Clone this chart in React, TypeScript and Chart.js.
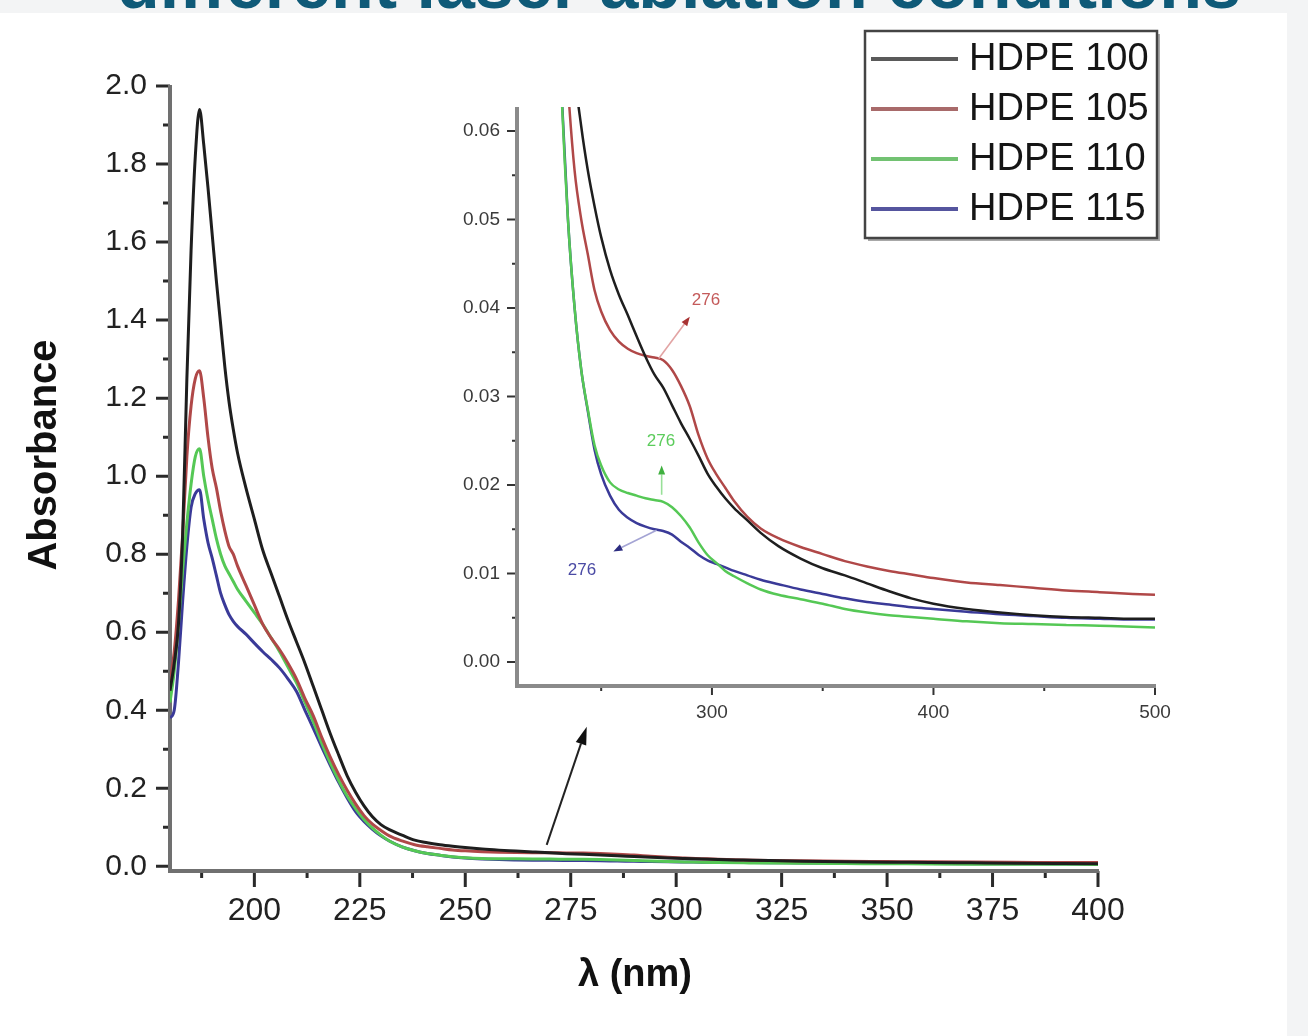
import React, { useEffect, useRef } from 'react';
import { Chart, registerables } from 'chart.js';

Chart.register(...registerables);

const FONT = '"Liberation Sans", Arial, Helvetica, sans-serif';

// ---- data ----
const wavelengths = [
  180, 181, 182, 183, 184, 185, 186, 187, 188, 189, 190, 191, 192, 193, 194, 195, 196, 198, 200, 202,
  204, 206, 208, 210, 212, 214, 216, 218, 220, 222, 224, 226, 228, 230, 232, 235, 238, 241, 244, 247,
  250, 254, 258, 262, 266, 270, 274, 278, 282, 286, 290, 294, 298, 302, 306, 310, 316, 322, 330, 340,
  350, 360, 370, 380, 390, 400, 415, 430, 445, 460, 475, 490, 500,
];

const hdpe100 = [
  0.45, 0.52, 0.62, 0.85, 1.25, 1.58, 1.82, 1.94, 1.85, 1.74, 1.62, 1.5, 1.39, 1.28, 1.19, 1.12, 1.06, 0.97, 0.89, 0.81,
  0.75, 0.69, 0.63, 0.575, 0.52, 0.46, 0.4, 0.34, 0.285, 0.232, 0.19, 0.155, 0.127, 0.107, 0.094, 0.08, 0.067, 0.0605, 0.0555, 0.0515,
  0.048, 0.0443, 0.0415, 0.0392, 0.0368, 0.0345, 0.0325, 0.031, 0.029, 0.027, 0.0252, 0.0233, 0.0213, 0.0198, 0.0185, 0.0174, 0.016, 0.0146, 0.0131, 0.0117,
  0.0106, 0.0098, 0.0089, 0.008, 0.0072, 0.0066, 0.006, 0.0056, 0.0053, 0.0051, 0.005, 0.0049, 0.0049,
];

const hdpe105 = [
  0.47, 0.55, 0.68, 0.85, 1.05, 1.18, 1.25, 1.27, 1.2, 1.1, 1.02, 0.97, 0.91, 0.86, 0.82, 0.8, 0.77, 0.72, 0.67, 0.62,
  0.585, 0.555, 0.52, 0.48, 0.43, 0.385, 0.33, 0.28, 0.235, 0.195, 0.16, 0.13, 0.108, 0.092, 0.078, 0.065, 0.0555, 0.05, 0.046, 0.042,
  0.0396, 0.0375, 0.0362, 0.0354, 0.0349, 0.0346, 0.0344, 0.0341, 0.033, 0.0312, 0.0289, 0.0256, 0.023, 0.0212, 0.0197, 0.0182, 0.0164, 0.0151, 0.014, 0.013,
  0.0122, 0.0114, 0.0108, 0.0103, 0.0099, 0.0095, 0.009, 0.0087, 0.0084, 0.0081, 0.0079, 0.0077, 0.0076,
];

const hdpe110 = [
  0.42, 0.5, 0.62, 0.76, 0.88, 0.98, 1.05, 1.07, 1.0, 0.94, 0.89, 0.84, 0.8, 0.77, 0.75, 0.73, 0.71, 0.68, 0.65, 0.62,
  0.585, 0.55, 0.51, 0.47, 0.42, 0.37, 0.315, 0.265, 0.22, 0.18, 0.148, 0.12, 0.098, 0.08, 0.065, 0.05, 0.04, 0.033, 0.0285, 0.0245,
  0.0222, 0.0203, 0.0195, 0.0191, 0.0188, 0.0185, 0.0183, 0.0181, 0.0175, 0.0165, 0.0152, 0.0135, 0.0121, 0.0112, 0.0103, 0.0097, 0.0089, 0.0082, 0.0076, 0.0071,
  0.0066, 0.006, 0.0056, 0.0053, 0.0051, 0.0049, 0.0046, 0.0044, 0.0043, 0.0042, 0.0041, 0.004, 0.0039,
];

const hdpe115 = [
  0.38, 0.4, 0.52, 0.68, 0.82, 0.92, 0.955, 0.965, 0.89, 0.83, 0.79, 0.745, 0.7, 0.67, 0.645, 0.628, 0.615, 0.595, 0.572, 0.55,
  0.53, 0.508, 0.48, 0.448, 0.4, 0.353, 0.305, 0.259, 0.215, 0.175, 0.14, 0.115, 0.095, 0.078, 0.065, 0.05, 0.04, 0.033, 0.0283, 0.024,
  0.0212, 0.0188, 0.0172, 0.0163, 0.0157, 0.0153, 0.015, 0.0148, 0.0144, 0.0136, 0.0129, 0.0121, 0.0115, 0.0111, 0.0107, 0.0103, 0.0098, 0.0093, 0.0088, 0.0082,
  0.0077, 0.0072, 0.0068, 0.0065, 0.0062, 0.006, 0.0057, 0.0054, 0.0052, 0.005, 0.0049, 0.0048, 0.0048,
];

const seriesLabels = ['HDPE 100', 'HDPE 105', 'HDPE 110', 'HDPE 115'];
const seriesValues = [hdpe100, hdpe105, hdpe110, hdpe115];
const seriesColors = ['#1e1e1e', '#b04848', '#55c855', '#3a3a98'];
const legendColors = ['#5a5a5a', '#a86a6a', '#72c272', '#55559e'];

// ---- axes ----
const titleText = 'different laser ablation conditions';
const xAxisTitle = 'λ (nm)';
const yAxisTitle = 'Absorbance';

const mainXRange = [180, 400];
const mainYRange = [-0.012, 2.0];
const mainXTicks = [200, 225, 250, 275, 300, 325, 350, 375, 400];
const mainXMinor = [187.5, 212.5, 237.5, 262.5, 287.5, 312.5, 337.5, 362.5, 387.5];
const mainYTicks = [0, 0.2, 0.4, 0.6, 0.8, 1.0, 1.2, 1.4, 1.6, 1.8, 2.0];
const mainYMinor = [0.1, 0.3, 0.5, 0.7, 0.9, 1.1, 1.3, 1.5, 1.7, 1.9];

const insetXRange = [212, 500];
const insetYRange = [-0.0027, 0.0627];
const insetXTicks = [300, 400, 500];
const insetXMinor = [250, 350, 450];
const insetYTicks = [0, 0.01, 0.02, 0.03, 0.04, 0.05, 0.06];
const insetYMinor = [0.005, 0.015, 0.025, 0.035, 0.045, 0.055];

// ---- annotations (data coordinates) ----
const mainArrowTail = [269.3, 0.055];
const mainArrowHead = [278.8, 0.358];

const annotationLabel = '276';
const annotationSeries = [1, 2, 3];
const annotationTail = [[276, 0.0343], [277.3, 0.0189], [275, 0.0149]];
const annotationHead = [[290, 0.039], [277.3, 0.0222], [255.5, 0.0125]];
const annotationTextAt = [[297.3, 0.0409], [277, 0.0249], [241.3, 0.0104]];
const annotationLineColors = ['#e2a4a4', '#98e098', '#a4a4d4'];
const annotationHeadColors = ['#a83232', '#3fb03f', '#2c2c80'];
const annotationTextColors = ['#c45a5a', '#5ccc5c', '#4a4aa4'];

function buildDatasets(width: number) {
  return seriesLabels.map((label, i) => ({
    label,
    data: wavelengths.map((w, j) => ({ x: w, y: seriesValues[i][j] })),
    borderColor: seriesColors[i],
    backgroundColor: seriesColors[i],
    borderWidth: width,
    pointRadius: 0,
    fill: false,
    cubicInterpolationMode: 'monotone' as const,
  }));
}

function drawArrow(ctx: CanvasRenderingContext2D, x1: number, y1: number, x2: number, y2: number,
  lineColor: string, headColor: string, lw: number, hl: number, hw: number) {
  const ang = Math.atan2(y2 - y1, x2 - x1);
  const bx = x2 - hl * Math.cos(ang);
  const by = y2 - hl * Math.sin(ang);
  ctx.strokeStyle = lineColor;
  ctx.lineWidth = lw;
  ctx.beginPath();
  ctx.moveTo(x1, y1);
  ctx.lineTo(bx, by);
  ctx.stroke();
  ctx.fillStyle = headColor;
  ctx.beginPath();
  ctx.moveTo(x2, y2);
  ctx.lineTo(bx + (hw / 2) * Math.sin(ang), by - (hw / 2) * Math.cos(ang));
  ctx.lineTo(bx - (hw / 2) * Math.sin(ang), by + (hw / 2) * Math.cos(ang));
  ctx.closePath();
  ctx.fill();
}

const mainPlugin = {
  id: 'mainDecor',
  beforeDatasetsDraw(chart: any) {
    const { ctx, chartArea: a } = chart;
    const xs = chart.scales.x;
    const ys = chart.scales.y;
    ctx.save();
    ctx.strokeStyle = '#2a2a2a';
    ctx.lineWidth = 3;
    ctx.beginPath();
    mainYTicks.forEach((v) => { const p = ys.getPixelForValue(v); ctx.moveTo(a.left, p); ctx.lineTo(a.left - 14, p); });
    mainYMinor.forEach((v) => { const p = ys.getPixelForValue(v); ctx.moveTo(a.left, p); ctx.lineTo(a.left - 7, p); });
    mainXTicks.forEach((v) => { const p = xs.getPixelForValue(v); ctx.moveTo(p, a.bottom); ctx.lineTo(p, a.bottom + 16); });
    mainXMinor.forEach((v) => { const p = xs.getPixelForValue(v); ctx.moveTo(p, a.bottom); ctx.lineTo(p, a.bottom + 7); });
    ctx.stroke();
    ctx.strokeStyle = '#707070';
    ctx.lineWidth = 4;
    ctx.beginPath();
    ctx.moveTo(a.left, a.top - 1);
    ctx.lineTo(a.left, a.bottom + 2);
    ctx.moveTo(a.left - 2, a.bottom);
    ctx.lineTo(a.right + 1, a.bottom);
    ctx.stroke();
    ctx.restore();
  },
  afterDraw(chart: any) {
    const { ctx } = chart;
    const xs = chart.scales.x;
    const ys = chart.scales.y;
    ctx.save();
    // axis titles
    ctx.fillStyle = '#111';
    ctx.textAlign = 'center';
    ctx.textBaseline = 'middle';
    ctx.font = `bold 38px ${FONT}`;
    ctx.fillText(xAxisTitle, 635, 976);
    ctx.save();
    ctx.translate(45, 455);
    ctx.rotate(-Math.PI / 2);
    ctx.font = `bold 40px ${FONT}`;
    ctx.fillText(yAxisTitle, 0, 0);
    ctx.restore();
    // arrow pointing to inset
    drawArrow(ctx,
      xs.getPixelForValue(mainArrowTail[0]), ys.getPixelForValue(mainArrowTail[1]),
      xs.getPixelForValue(mainArrowHead[0]), ys.getPixelForValue(mainArrowHead[1]),
      '#222', '#111', 2, 18, 11);
    // legend
    const lx = 865, ly = 31, lw = 292, lh = 207;
    ctx.fillStyle = '#ffffff';
    ctx.fillRect(lx, ly, lw, lh);
    ctx.strokeStyle = '#a8a8a8';
    ctx.lineWidth = 3;
    ctx.beginPath();
    ctx.moveTo(lx + lw + 1.5, ly + 3);
    ctx.lineTo(lx + lw + 1.5, ly + lh + 1.5);
    ctx.lineTo(lx + 3, ly + lh + 1.5);
    ctx.stroke();
    ctx.strokeStyle = '#444';
    ctx.lineWidth = 2.5;
    ctx.strokeRect(lx, ly, lw, lh);
    ctx.font = `38px ${FONT}`;
    ctx.textAlign = 'left';
    ctx.textBaseline = 'middle';
    seriesLabels.forEach((label, i) => {
      const cy = ly + 28 + i * 50;
      ctx.strokeStyle = legendColors[i];
      ctx.lineWidth = 4;
      ctx.beginPath();
      ctx.moveTo(lx + 6, cy);
      ctx.lineTo(lx + 93, cy);
      ctx.stroke();
      ctx.fillStyle = '#151515';
      ctx.fillText(label, lx + 104, cy + 1);
    });
    ctx.restore();
  },
};

const insetPlugin = {
  id: 'insetDecor',
  beforeDatasetsDraw(chart: any) {
    const { ctx, chartArea: a } = chart;
    const xs = chart.scales.x;
    const ys = chart.scales.y;
    ctx.save();
    ctx.strokeStyle = '#333';
    ctx.lineWidth = 2;
    ctx.beginPath();
    insetYTicks.forEach((v) => { const p = ys.getPixelForValue(v); ctx.moveTo(a.left, p); ctx.lineTo(a.left - 10, p); });
    insetYMinor.forEach((v) => { const p = ys.getPixelForValue(v); ctx.moveTo(a.left, p); ctx.lineTo(a.left - 5, p); });
    insetXTicks.forEach((v) => { const p = xs.getPixelForValue(v); ctx.moveTo(p, a.bottom); ctx.lineTo(p, a.bottom + 9); });
    insetXMinor.forEach((v) => { const p = xs.getPixelForValue(v); ctx.moveTo(p, a.bottom); ctx.lineTo(p, a.bottom + 5); });
    ctx.stroke();
    ctx.strokeStyle = '#8a8a8a';
    ctx.lineWidth = 4;
    ctx.beginPath();
    ctx.moveTo(a.left, a.top);
    ctx.lineTo(a.left, a.bottom + 2);
    ctx.moveTo(a.left - 2, a.bottom);
    ctx.lineTo(a.right + 1, a.bottom);
    ctx.stroke();
    ctx.restore();
  },
  afterDatasetsDraw(chart: any) {
    const { ctx } = chart;
    const xs = chart.scales.x;
    const ys = chart.scales.y;
    ctx.save();
    ctx.font = `17px ${FONT}`;
    ctx.textAlign = 'center';
    ctx.textBaseline = 'middle';
    annotationSeries.forEach((s, i) => {
      drawArrow(ctx,
        xs.getPixelForValue(annotationTail[i][0]), ys.getPixelForValue(annotationTail[i][1]),
        xs.getPixelForValue(annotationHead[i][0]), ys.getPixelForValue(annotationHead[i][1]),
        annotationLineColors[i], annotationHeadColors[i], 1.6, 9, 7);
      ctx.fillStyle = annotationTextColors[i];
      ctx.fillText(annotationLabel, xs.getPixelForValue(annotationTextAt[i][0]), ys.getPixelForValue(annotationTextAt[i][1]));
    });
    ctx.restore();
  },
};

export default function App() {
  const mainRef = useRef<HTMLCanvasElement>(null);
  const insetRef = useRef<HTMLCanvasElement>(null);

  useEffect(() => {
    if (!mainRef.current || !insetRef.current) return;
    const main = new Chart(mainRef.current, {
      type: 'line',
      data: { datasets: buildDatasets(3) as any },
      options: {
        animation: false,
        responsive: false,
        maintainAspectRatio: false,
        events: [],
        layout: { padding: { top: 86, right: 210, left: 0, bottom: 0 } },
        plugins: { legend: { display: false }, tooltip: { enabled: false }, title: { display: false } },
        scales: {
          x: {
            type: 'linear',
            min: mainXRange[0],
            max: mainXRange[1],
            grid: { display: false, drawTicks: false },
            border: { display: false },
            afterBuildTicks: (s: any) => { s.ticks = mainXTicks.map((v) => ({ value: v })); },
            afterFit: (s: any) => { s.height = 165; },
            ticks: {
              padding: 21,
              autoSkip: false,
              maxRotation: 0,
              color: '#222',
              font: { family: FONT, size: 32 },
              callback: (v: any) => String(v),
            },
          },
          y: {
            type: 'linear',
            min: mainYRange[0],
            max: mainYRange[1],
            grid: { display: false, drawTicks: false },
            border: { display: false },
            afterBuildTicks: (s: any) => { s.ticks = mainYTicks.map((v) => ({ value: v })); },
            afterFit: (s: any) => { s.width = 170; },
            ticks: {
              padding: 23,
              color: '#222',
              font: { family: FONT, size: 30 },
              callback: (v: any) => Number(v).toFixed(1),
            },
          },
        },
      },
      plugins: [mainPlugin],
    });

    const inset = new Chart(insetRef.current, {
      type: 'line',
      data: { datasets: buildDatasets(2.5) as any },
      options: {
        animation: false,
        responsive: false,
        maintainAspectRatio: false,
        events: [],
        layout: { padding: { top: 29, right: 55, left: 0, bottom: 0 } },
        plugins: { legend: { display: false }, tooltip: { enabled: false }, title: { display: false } },
        scales: {
          x: {
            type: 'linear',
            min: insetXRange[0],
            max: insetXRange[1],
            grid: { display: false, drawTicks: false },
            border: { display: false },
            afterBuildTicks: (s: any) => { s.ticks = insetXTicks.map((v) => ({ value: v })); },
            afterFit: (s: any) => { s.height = 64; },
            ticks: {
              padding: 15,
              autoSkip: false,
              maxRotation: 0,
              color: '#3a3a3a',
              font: { family: FONT, size: 19 },
              callback: (v: any) => String(v),
            },
          },
          y: {
            type: 'linear',
            min: insetYRange[0],
            max: insetYRange[1],
            grid: { display: false, drawTicks: false },
            border: { display: false },
            afterBuildTicks: (s: any) => { s.ticks = insetYTicks.map((v) => ({ value: v })); },
            afterFit: (s: any) => { s.width = 87; },
            ticks: {
              padding: 17,
              color: '#3a3a3a',
              font: { family: FONT, size: 19 },
              callback: (v: any) => Number(v).toFixed(2),
            },
          },
        },
      },
      plugins: [insetPlugin],
    });

    return () => {
      main.destroy();
      inset.destroy();
    };
  }, []);

  return (
    <div style={{ position: 'absolute', left: 0, top: 0, width: 1308, height: 1036, overflow: 'hidden', background: '#ffffff' }}>
      <div style={{ position: 'absolute', left: 0, top: 0, width: 1308, height: 13, background: '#f3f4f5' }} />
      <div style={{ position: 'absolute', left: 1287, top: 0, width: 21, height: 1036, background: '#f3f4f5' }} />
      <div
        style={{
          position: 'absolute',
          left: 117,
          top: -51,
          fontFamily: FONT,
          fontWeight: 700,
          fontSize: 70,
          lineHeight: '70px',
          color: '#0f5a78',
          whiteSpace: 'nowrap',
        }}
      >
        {titleText}
      </div>
      <canvas ref={mainRef} width={1308} height={1036} style={{ position: 'absolute', left: 0, top: 0 }} />
      <canvas ref={insetRef} width={780} height={672} style={{ position: 'absolute', left: 430, top: 78 }} />
    </div>
  );
}
